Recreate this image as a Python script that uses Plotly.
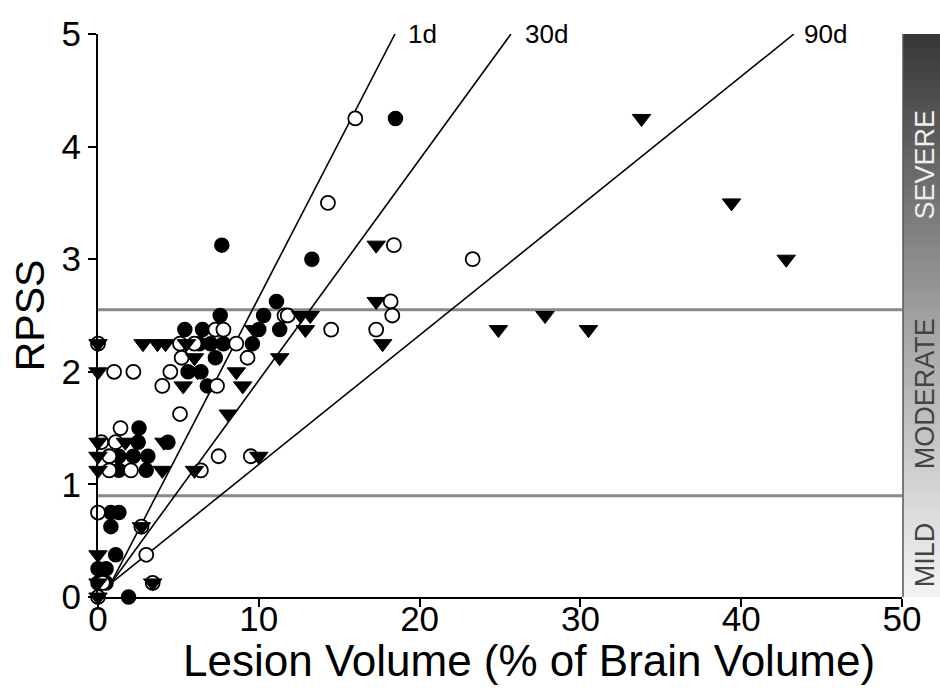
import numpy as np
import plotly.graph_objects as go

# ---------------- data ----------------
filled_x = [18.5, 7.7, 13.3, 11.1, 7.6, 10.3,
            5.4, 6.5, 10.0, 11.3,
            6.3, 7.0, 7.8, 9.6,
            7.3,
            5.6, 6.4,
            6.8,
            2.55,
            2.5, 4.35,
            1.3, 2.2, 3.1,
            1.3, 3.0,
            0.8, 1.3,
            0.8,
            1.1,
            0.0, 0.5, 0.0, 0.5,
            1.9]
filled_y = [4.25, 3.125, 3.0, 2.625, 2.5, 2.5,
            2.375, 2.375, 2.375, 2.375,
            2.25, 2.25, 2.25, 2.25,
            2.125,
            2.0, 2.0,
            1.875,
            1.5,
            1.375, 1.375,
            1.25, 1.25, 1.25,
            1.125, 1.125,
            0.75, 0.75,
            0.625,
            0.375,
            0.25, 0.25, 0.125, 0.125,
            0.0]

open_x = [16.0, 14.3, 18.4, 23.3,
          18.2, 18.3, 11.6, 11.8,
          7.3, 7.8, 14.5, 17.3,
          0.0, 5.1, 6.0, 8.6,
          5.2, 9.3,
          1.0, 2.2, 4.5,
          4.0, 7.4,
          5.1,
          1.4,
          0.2, 1.1,
          0.7, 7.5, 9.5,
          0.7, 2.05, 6.4,
          0.0,
          2.7,
          3.0,
          0.3, 3.4, 0.0]
open_y = [4.25, 3.5, 3.125, 3.0,
          2.625, 2.5, 2.5, 2.5,
          2.375, 2.375, 2.375, 2.375,
          2.25, 2.25, 2.25, 2.25,
          2.125, 2.125,
          2.0, 2.0, 2.0,
          1.875, 1.875,
          1.625,
          1.5,
          1.375, 1.375,
          1.25, 1.25, 1.25,
          1.125, 1.125, 1.125,
          0.75,
          0.625,
          0.375,
          0.125, 0.125, 0.0]

tri_x = [33.8, 39.4, 42.8, 17.3,
         17.3,
         27.8, 12.6, 13.2,
         12.9, 24.9, 30.5, 9.7,
         17.7, 2.8, 3.7, 4.2, 5.5, 0.0,
         6.0, 11.3,
         0.0, 6.2, 8.6,
         5.3, 9.0,
         8.1,
         0.0, 1.7, 4.1,
         0.0, 10.0,
         0.0, 4.0, 6.0,
         2.7,
         0.0,
         3.4, 0.0, 0.0]
tri_y = [4.25, 3.5, 3.0, 3.125,
         2.625,
         2.5, 2.5, 2.5,
         2.375, 2.375, 2.375, 2.375,
         2.25, 2.25, 2.25, 2.25, 2.25, 2.25,
         2.125, 2.125,
         2.0, 2.0, 2.0,
         1.875, 1.875,
         1.625,
         1.375, 1.375, 1.375,
         1.25, 1.25,
         1.125, 1.125, 1.125,
         0.625,
         0.375,
         0.125, 0.125, 0.0]

# fitted lines (start point, end at top)
line_names = ["1d", "30d", "90d"]
line_x0 = [0.8, 0.8, 0.8]
line_y0 = [0.12, 0.12, 0.12]
line_x1 = [18.47, 25.68, 43.28]
line_y1 = [5.0, 5.0, 5.0]
label_x = [19.15, 26.4, 43.8]

# severity thresholds
thresholds = [2.55, 0.9]
severity_labels = ["SEVERE", "MODERATE", "MILD"]
severity_y = [3.84, 1.8, 0.37]
severity_colors = ["#eeeeee", "#444444", "#444444"]

x_ticks = [0, 10, 20, 30, 40, 50]
y_ticks = [0, 1, 2, 3, 4, 5]
x_title = "Lesion Volume (% of Brain Volume)"
y_title = "RPSS"

FONT = "Liberation Sans, Arial, sans-serif"

fig = go.Figure()

# gradient bar (heatmap on secondary axes)
grad_y = np.linspace(0, 5, 201)
fig.add_trace(go.Heatmap(
    x=[0], y=grad_y, z=[[v] for v in grad_y],
    colorscale=[[0, "#f4f4f4"], [0.5, "#a0a0a0"], [1, "#363636"]],
    showscale=False, xaxis="x2", yaxis="y2", hoverinfo="skip"))

# threshold lines
for t in thresholds:
    fig.add_trace(go.Scatter(x=[0, 50], y=[t, t], mode="lines",
                             line=dict(color="#888888", width=3),
                             showlegend=False, hoverinfo="skip"))

# regression lines
for i, n in enumerate(line_names):
    fig.add_trace(go.Scatter(x=[line_x0[i], line_x1[i]], y=[line_y0[i], line_y1[i]],
                             mode="lines", line=dict(color="black", width=1.6),
                             showlegend=False, cliponaxis=False))

fig.add_trace(go.Scatter(x=filled_x, y=filled_y, mode="markers",
                         marker=dict(symbol="circle", size=14, color="black",
                                     line=dict(color="black", width=1.5)),
                         showlegend=False, cliponaxis=False))
fig.add_trace(go.Scatter(x=open_x, y=open_y, mode="markers",
                         marker=dict(symbol="circle", size=14, color="white",
                                     line=dict(color="black", width=1.8)),
                         showlegend=False, cliponaxis=False))
fig.add_trace(go.Scatter(x=tri_x, y=tri_y, mode="markers",
                         marker=dict(symbol="triangle-down", size=16, color="black",
                                     line=dict(color="black", width=1)),
                         showlegend=False, cliponaxis=False))

annotations = []
for i, n in enumerate(line_names):
    annotations.append(dict(x=label_x[i], y=1.0, xref="x", yref="paper",
                            text=n, showarrow=False, xanchor="left", yanchor="middle",
                            font=dict(family=FONT, size=26, color="black")))
for i, s in enumerate(severity_labels):
    annotations.append(dict(x=(925 - 98) / 842, y=severity_y[i], xref="paper", yref="y",
                            text=s, showarrow=False, textangle=-90,
                            xanchor="center", yanchor="middle",
                            font=dict(family=FONT, size=27, color=severity_colors[i])))
# x axis title (placed as in reference, slightly right of plot centre)
annotations.append(dict(x=(529 - 98) / 842, y=-(660 - 597) / 563, xref="paper", yref="paper",
                        text=x_title, showarrow=False, xanchor="center", yanchor="middle",
                        font=dict(family=FONT, size=44, color="black")))

fig.update_layout(
    width=940, height=688,
    margin=dict(l=98, r=0, t=34, b=91, autoexpand=False),
    paper_bgcolor="white", plot_bgcolor="white",
    font=dict(family=FONT, color="black"),
    xaxis=dict(domain=[0, 804 / 842], range=[0, 50], tickvals=x_ticks, automargin=False,
               showgrid=False, zeroline=False, showline=True, linecolor="black",
               linewidth=2, ticks="outside", ticklen=8, tickwidth=2, tickcolor="black",
               ticklabelstandoff=-18, tickfont=dict(size=35)),
    yaxis=dict(range=[0, 5], tickvals=y_ticks, showgrid=False, zeroline=False, automargin=False,
               showline=True, linecolor="black", linewidth=2, ticks="outside",
               ticklen=8, tickwidth=2, tickcolor="black", tickfont=dict(size=35),
               title=dict(text=y_title, font=dict(size=41), standoff=4)),
    xaxis2=dict(domain=[805 / 842, 1], visible=False, range=[-0.5, 0.5], anchor="y2"),
    yaxis2=dict(range=[0, 5], visible=False, anchor="x2"),
    annotations=annotations,
    shapes=[dict(type="line", xref="paper", yref="paper", x0=805 / 842, x1=805 / 842,
                 y0=0, y1=1, line=dict(color="#555555", width=1.5))],
)

fig.write_html("out.html")
